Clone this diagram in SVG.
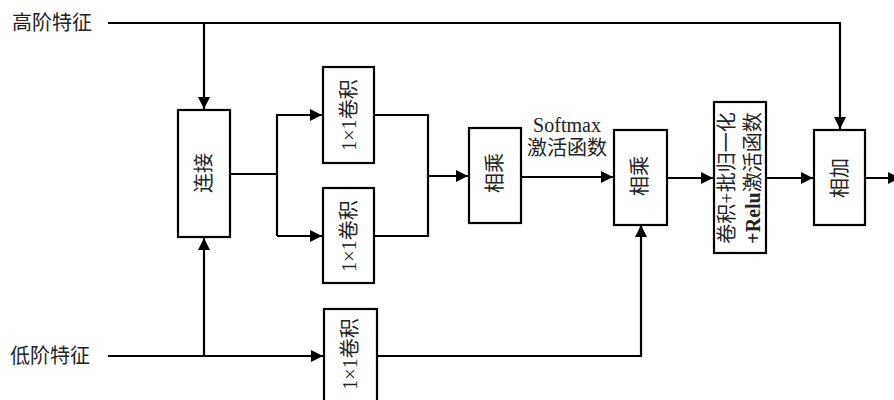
<svg xmlns="http://www.w3.org/2000/svg" width="894" height="400" viewBox="0 0 894 400">
<style>
.box{fill:#fff;stroke:#000;stroke-width:2.2}
.ln{fill:none;stroke:#000;stroke-width:2.2}
.t{font-family:"Liberation Serif","Noto Sans CJK SC",serif;font-size:20px;fill:#222}
.r{text-anchor:middle;dominant-baseline:central}
</style>
<defs>
<marker id="ar" viewBox="0 0 12 12" refX="12" refY="6" markerWidth="12" markerHeight="12" markerUnits="userSpaceOnUse" orient="auto">
<path d="M0,0 L12,6 L0,12 z" fill="#000"/>
</marker>
</defs>
<g id="connectors">
<path class="ln" d="M108,23 H840 V129" marker-end="url(#ar)"/>
<path class="ln" d="M204,23 V109" marker-end="url(#ar)"/>
<path class="ln" d="M108,356 H323" marker-end="url(#ar)"/>
<path class="ln" d="M204,356 V238" marker-end="url(#ar)"/>
<path class="ln" d="M230,174 H277"/>
<path class="ln" d="M277,236 V115 H322" marker-end="url(#ar)"/>
<path class="ln" d="M277,236 H322" marker-end="url(#ar)"/>
<path class="ln" d="M374,115 H428 V236 H374"/>
<path class="ln" d="M428,176 H468" marker-end="url(#ar)"/>
<path class="ln" d="M521,177 H613" marker-end="url(#ar)"/>
<path class="ln" d="M377,356 H641 V225" marker-end="url(#ar)"/>
<path class="ln" d="M667,178 H713" marker-end="url(#ar)"/>
<path class="ln" d="M766,178 H813" marker-end="url(#ar)"/>
<path class="ln" d="M865,178 H900" marker-end="url(#ar)"/>
</g>
<g id="label-high"><text class="t" x="12" y="30">高阶特征</text></g>
<g id="label-low"><text class="t" x="10" y="363">低阶特征</text></g>
<g id="concat">
<rect class="box" x="178" y="110" width="52" height="127"/>
<text class="t r" transform="translate(204,173) rotate(-90)">连接</text>
</g>
<g id="conv1">
<rect class="box" x="323" y="67" width="51" height="96"/>
<text class="t r" transform="translate(349,115) rotate(-90)">1×1卷积</text>
</g>
<g id="conv2">
<rect class="box" x="323" y="188" width="51" height="95"/>
<text class="t r" transform="translate(349,236) rotate(-90)">1×1卷积</text>
</g>
<g id="conv3">
<rect class="box" x="324" y="309" width="53" height="100"/>
<text class="t r" transform="translate(350,354) rotate(-90)">1×1卷积</text>
</g>
<g id="mul1">
<rect class="box" x="469" y="128" width="52" height="95"/>
<text class="t r" transform="translate(495,173) rotate(-90)">相乘</text>
</g>
<g id="softmax-label">
<text class="t" x="567" y="132" text-anchor="middle">Softmax</text>
<text class="t" x="567" y="155" text-anchor="middle">激活函数</text>
</g>
<g id="mul2">
<rect class="box" x="614" y="130" width="53" height="95"/>
<text class="t r" transform="translate(640,176) rotate(-90)">相乘</text>
</g>
<g id="convbn">
<rect class="box" x="714" y="102" width="52" height="151"/>
<text class="t r" transform="translate(727,178) rotate(-90)">卷积+批归一化</text>
<text class="t r" transform="translate(753,178) rotate(-90)"><tspan font-weight="bold">+Relu</tspan>激活函数</text>
</g>
<g id="add">
<rect class="box" x="814" y="130" width="51" height="95"/>
<text class="t r" transform="translate(840,178) rotate(-90)">相加</text>
</g>
</svg>
